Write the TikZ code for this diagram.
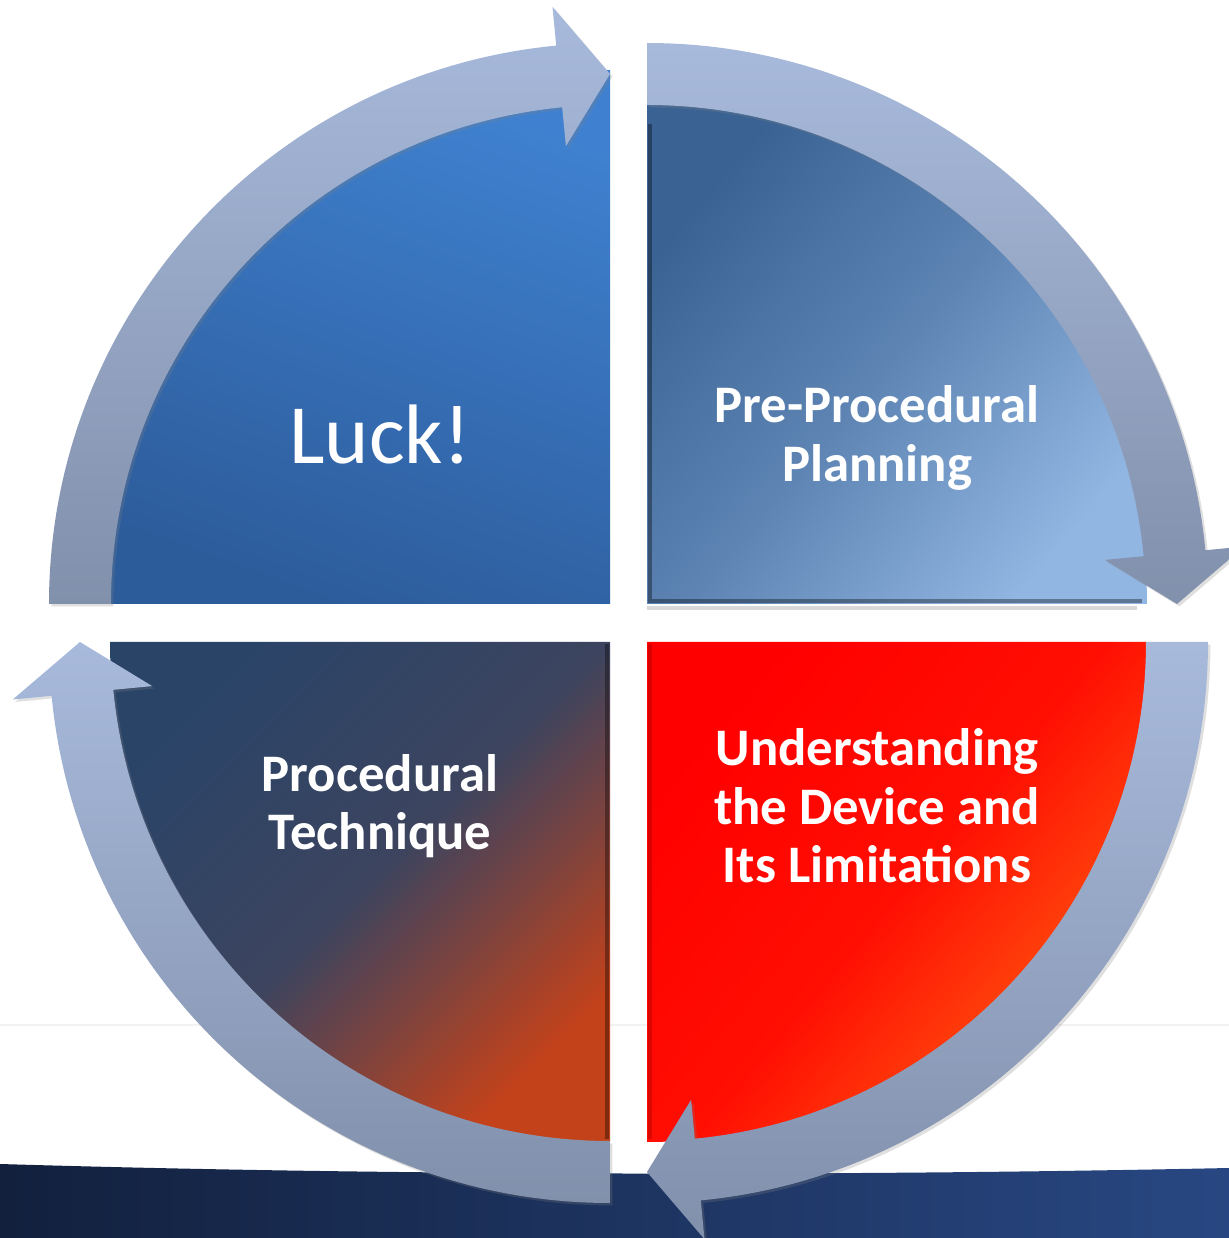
\documentclass[tikz,border=0pt]{standalone}
\usepackage{fontspec}
\setmainfont{Carlito}
\usetikzlibrary{shadows}
\definecolor{ringtop}{HTML}{A8BADC}
\definecolor{ringbot}{HTML}{8190AB}
\definecolor{lucktop}{HTML}{3F81D0}
\definecolor{luckbot}{HTML}{2D5C9B}
\definecolor{plantop}{HTML}{3A6394}
\definecolor{planbot}{HTML}{92B6E2}
\definecolor{devtop}{HTML}{FF0000}
\definecolor{devbot}{HTML}{FF5E10}
\definecolor{techtop}{HTML}{2A4468}
\definecolor{techbot}{HTML}{C4421A}
\definecolor{navyl}{HTML}{12203D}
\definecolor{navyr}{HTML}{284782}
\tikzset{label/.style = {text=white, align=center,
font=\bfseries\fontsize{15}{16.6}\selectfont},
ring/.style = {top color=ringtop, bottom color=ringbot,
drop shadow={opacity=0.25, shadow xshift=0.7pt, shadow yshift=-0.7pt}},
bevel/.style = {line width=1.4pt, opacity=0.35}}
% quarter band running clockwise from #1 to #2, head at #2
\newcommand\cyclearrow[2]{%
  \pgfmathsetmacro\hb{#2+5.5}%
  \path[ring] (#1:561) arc[start angle=#1, end angle=\hb, radius=561]
    -- (\hb:600) -- (#2:530) -- (\hb:460) -- (\hb:499)
    arc[start angle=\hb, end angle=#1, radius=499] -- cycle;}

\begin{document}
\begin{tikzpicture}[x=0.01cm, y=0.01cm]
\clip (0,0) rectangle (1229,1238);
\fill[white] (0,0) rectangle (1229,1238);
\draw[black!5, line width=0.6] (0,213) -- (1229,213);
\shade[left color=navyl, right color=navyr] (0,0) -- (0,74)
  .. controls (400,62) and (850,62) .. (1229,70) -- (1229,0) -- cycle;

\begin{scope}[shift={(610,634)}]
  \path[top color=lucktop, bottom color=luckbot, shading angle=-20]
    (0,0) -- (0,534) arc[start angle=90, end angle=180, x radius=500, y radius=534] -- cycle;
\end{scope}
\begin{scope}[shift={(647,634)}]
  \path[top color=plantop, bottom color=planbot, middle color=plantop!60!planbot, shading angle=50]
    (0,0) -- (90:500) arc[start angle=90, end angle=0, radius=500] -- cycle;
  \draw[bevel, black] (3,480) -- (3,3) -- (495,3);
  \draw[black, opacity=0.15, line width=1.2pt] (0,-4) -- (490,-4);
\end{scope}
\begin{scope}[shift={(647,596)}]
  \path[top color=devtop, bottom color=devbot, middle color=devtop!85!devbot, shading angle=50]
    (0,0) -- (0:500) arc[start angle=0, end angle=-90, radius=500] -- cycle;
  \draw[bevel, red!60!black] (3,-2) -- (3,-497);
\end{scope}
\begin{scope}[shift={(610,596)}]
  \path[top color=techtop, bottom color=techbot, middle color=techtop!88!techbot, shading angle=45]
    (0,0) -- (180:500) arc[start angle=180, end angle=270, radius=500] -- cycle;
  \draw[bevel, black] (-3,-2) -- (-3,-497);
\end{scope}

\begin{scope}[shift={(610,634)}] \cyclearrow{180}{90} \end{scope}
\begin{scope}[shift={(647,634)}] \cyclearrow{90}{0} \end{scope}
\begin{scope}[shift={(647,596)}] \cyclearrow{0}{-90} \end{scope}
\begin{scope}[shift={(610,596)}] \cyclearrow{-90}{-180} \end{scope}

\node[text=white, font=\fontsize{24}{28}\selectfont] (luck) at (380,803) {Luck!};
\node[label] (planning) at (877,800) {Pre-Procedural\\Planning};
\node[label] (technique) at (380,432) {Procedural\\Technique};
\node[label] (device) at (877,432) {Understanding\\the Device and\\Its Limitations};
\end{tikzpicture}
\end{document}
